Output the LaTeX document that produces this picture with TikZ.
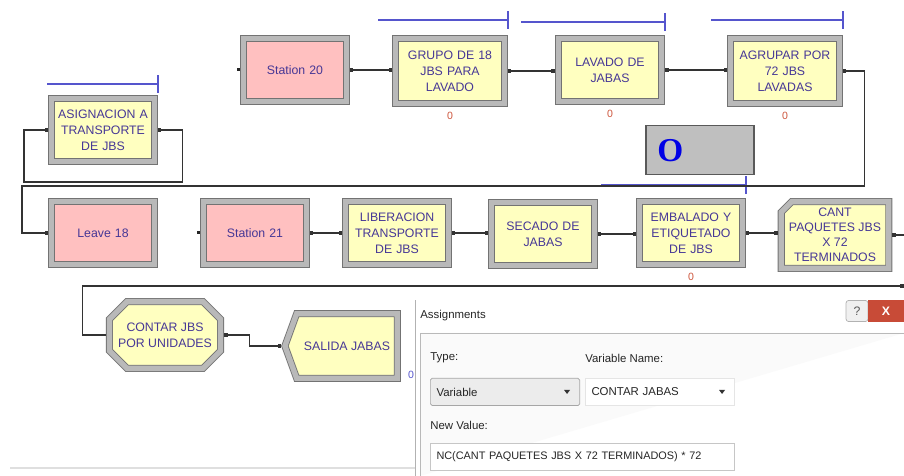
\documentclass[tikz,border=0pt]{standalone}
\usepackage{fontspec}
\setmainfont{Liberation Sans}
\newfontfamily\bigserif{Liberation Serif}
\usetikzlibrary{shapes.misc, shapes.symbols, arrows.meta, positioning, calc}
\definecolor{modyellow}{RGB}{255,255,192}
\definecolor{modpink}{RGB}{255,192,192}
\definecolor{modtext}{RGB}{70,55,150}
\definecolor{queueblue}{RGB}{85,85,205}
\definecolor{cntred}{RGB}{205,85,60}
\definecolor{closered}{RGB}{200,75,55}
\tikzset{
  module/.style  = {rectangle, draw=black!55, line width=0.5pt,
                    double=gray!55, double distance=3pt, outer sep=2pt,
                    fill=modyellow, text=modtext, align=center,
                    minimum width=58.4pt, minimum height=35.7pt,
                    text width=57pt, inner sep=0pt,
                    font=\fontsize{7}{9.1}\selectfont},
  station/.style = {module, fill=modpink},
  record/.style  = {module, chamfered rectangle, text width=,
                    chamfered rectangle corners=north west,
                    chamfered rectangle xsep=4pt, chamfered rectangle ysep=2pt},
  assign/.style  = {module, chamfered rectangle, text width=,
                    chamfered rectangle xsep=5pt, chamfered rectangle ysep=5pt},
  dispose/.style = {module, signal, signal to=west, signal pointer angle=140},
  conn/.style    = {line width=0.6pt, black!80,
                    {Square[length=2pt,width=2pt]}-{Square[length=2pt,width=2pt]}},
  queue/.style   = {queueblue, line width=1pt},
  counter/.style = {text=cntred, font=\fontsize{6}{6}\selectfont, inner sep=0pt},
  dlgtext/.style = {font=\fontsize{6.5}{7}\selectfont, anchor=west,
                    inner sep=0pt, text=black!85},
  field/.style   = {draw=gray!45, fill=white, anchor=north west,
                    minimum height=15.5pt, inner xsep=2pt, align=left,
                    font=\fontsize{6.5}{7}\selectfont, text=black!85},
}

\begin{document}
\begin{tikzpicture}[x=0.02cm, y=0.02cm]
  \useasboundingbox (0,0) rectangle (904,-476);

  % ---- Top row ----
  \node[station] (st20) at (295,-70) {Station 20};
  \node[module, minimum width=61.8pt, minimum height=37.4pt]
        (grupo) at (450,-71) {GRUPO DE 18\\JBS PARA\\LAVADO};
  \node[module, minimum width=58.9pt] (lavado) at (610,-70) {LAVADO DE\\JABAS};
  \node[module, minimum width=61.8pt, minimum height=37.4pt]
        (agrupar) at (785,-71) {AGRUPAR POR\\72 JBS\\LAVADAS};
  \node[module] (asig) at (103,-130) {ASIGNACION A\\TRANSPORTE\\DE JBS};

  % variable display
  \node[draw=black!65, line width=0.8pt, fill=gray!50,
        minimum width=61.5pt, minimum height=28pt] (obox) at (700,-150) {};
  \node[font=\bigserif\bfseries\fontsize{19}{19}\selectfont, text=blue!90!black,
        inner sep=0pt] (oval) at ($(obox.west)+(25,-1)$) {O};

  % ---- Middle row ----
  \node[station] (leave) at (103,-233) {Leave 18};
  \node[station] (st21) at (255,-233) {Station 21};
  \node[module] (libera) at (397,-233) {LIBERACION\\TRANSPORTE\\DE JBS};
  \node[module] (secado) at (543,-234) {SECADO DE\\JABAS};
  \node[module] (embal) at (691,-233) {EMBALADO Y\\ETIQUETADO\\DE JBS};
  \node[record, minimum width=61.2pt, minimum height=38pt,
        font=\fontsize{7}{8.5}\selectfont]
        (cant) at (835,-235) {CANT\\PAQUETES JBS\\X 72\\TERMINADOS};

  % ---- Bottom row ----
  \node[assign, minimum width=60.6pt, minimum height=38pt]
        (contar) at (165,-335) {CONTAR JBS\\POR UNIDADES};
  \node[dispose, minimum width=64pt, minimum height=36.8pt, text width=]
        (salida) at (347,-346) {SALIDA JABAS};

  % queues
  \foreach \n/\l/\h in {grupo/130/15, lavado/144/13, agrupar/132/15,
                         asig/111/11, embal/145/13} {
    \draw[queue] ($(\n.north east)+(0,\h)$) -- ++(-\l,0);
    \draw[queue] ($(\n.north east)+(0,\h)+(0,-9)$) -- ++(0,18);
  }

  % counters
  \foreach \n in {grupo, lavado, agrupar, embal}
    \node[counter] (cnt-\n) at ($(\n.south)+(0,-9)$) {0};
  \node[counter, text=queueblue] (cnt-salida) at (411,-375) {0};

  % connectors
  \coordinate (busL) at (22,-186);
  \coordinate (outR) at (904,-235);
  \coordinate (inR) at (904,-286);
  \foreach \a/\b in {st20/grupo, grupo/lavado, lavado/agrupar,
                     st21/libera, libera/secado, secado/embal, embal/cant}
    \draw[conn] (\a.east) -- (\b.west |- \a.east);
  \draw[conn] (agrupar.east) -- ++(22,0) |- (busL) |- (leave.west);
  \draw[conn] (asig.east) -- ++(25,0) |- ($(busL)+(2,4)$) |- (asig.west);
  \draw[conn, {Square[length=2pt,width=2pt]}-] (cant.east) -- (outR);
  \draw[conn, {Square[length=2pt,width=2pt]}-] (inR) -| ($(contar.west)+(-23,0)$)
        -- (contar.west);
  \draw[conn] (contar.east) -- ++(25,0) |- (salida.west);
  \fill[black!85] ($(st20.west)+(-3,-1.5)$) rectangle ++(3,3);
  \fill[black!85] ($(st21.west)+(-3,-1.5)$) rectangle ++(3,3);

  % ---- Assignments dialog ----
  \draw[gray!25, line width=1pt] (10,-468) -- (415,-468);
  \fill[white] (415,-300) rectangle (904,-476);
  \draw[gray!60] (415,-476) -- (415,-300);
  \draw[gray!55, fill=gray!4] (420,-476) |- (904,-333);
  \node[dlgtext] (dlgtitle) at (420,-316) {Assignments};
  \node[draw=gray!60, fill=gray!12, rounded corners=1.5pt,
        minimum width=12.5pt, minimum height=12pt, inner sep=0pt,
        font=\fontsize{7}{7}\selectfont, text=gray!70!black] (helpbtn) at (857,-311) {?};
  \node[fill=closered, minimum width=20pt, minimum height=12pt, inner sep=0pt,
        font=\bfseries\fontsize{7}{7}\selectfont, text=white] (closebtn) at (886,-311) {X};

  \node[dlgtext] (typelbl) at (430,-358) {Type:};
  \node[dlgtext] (namelbl) at (585,-358) {Variable Name:};
  \node[field, fill=gray!15, draw=gray!70, rounded corners=1pt,
        minimum width=85pt, text width=78pt] (typebox) at (430,-378) {Variable};
  \node[field, draw=gray!20, minimum width=85pt, text width=78pt]
        (namebox) at (585,-378) {CONTAR JABAS};
  \foreach \b in {typebox, namebox}
    \fill[black!80] ($(\b.east)+(-16,2)$) -- ++(6,0) -- ++(-3,-4) -- cycle;
  \node[dlgtext] (vallbl) at (430,-425) {New Value:};
  \node[field, minimum width=173pt, text width=166pt,
        font=\fontsize{6.2}{7}\selectfont]
        (valbox) at (430,-443) {NC(CANT PAQUETES JBS X 72 TERMINADOS) * 72};

\end{tikzpicture}
\end{document}
